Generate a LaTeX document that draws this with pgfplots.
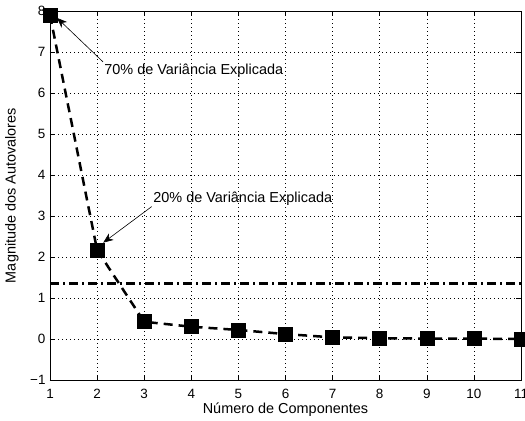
\documentclass[border=0pt]{standalone}
\usepackage{fontspec}
\setmainfont{Liberation Sans}
\usepackage{pgfplots}
\pgfplotsset{compat=1.18}
\usetikzlibrary{arrows.meta}
\begin{document}
\begin{tikzpicture}
	\begin{axis}[
			at={(0,0)}, anchor=south west,
			scale only axis,
			width=471bp, height=369bp,
			xmin=1, xmax=11,
			ymin=-1, ymax=8,
			xtick={1,2,3,4,5,6,7,8,9,10,11},
			xticklabels={1,2,3,4,5,6,7,8,9,10,11},
			ytick={-1,0,1,2,3,4,5,6,7,8},
			yticklabels={−1,0,1,2,3,4,5,6,7,8},
			tick align=inside,
			major tick length=5bp,
			tick style={black, line width=0.6bp},
			axis line style={black, line width=0.8bp},
			ticklabel style={font=\fontsize{13.5}{16}\selectfont},
			xticklabel style={yshift=-5.5bp},
			yticklabel style={xshift=-1bp},
			grid=major,
			grid style={black, line width=0.6bp, dash pattern=on 0.6bp off 3.4bp},
			xlabel={Número de Componentes},
			ylabel={Magnitude dos Autovalores},
			label style={font=\fontsize{14.5}{17}\selectfont},
			xlabel style={at={(axis description cs:0.5,-0.0813)}, anchor=center},
			ylabel style={at={(axis description cs:-0.0807,0.5)}, anchor=center},
			clip mode=individual,
		]

		% autovalores
		\addplot [
			black,
			line width=2.5bp,
			dash pattern=on 9bp off 6bp,
			mark=square*,
			mark size=7bp,
			mark options={solid, fill=black, line width=0.6bp}
		]
		coordinates {(1,7.9) (2,2.17) (3,0.42) (4,0.30) (5,0.22) (6,0.12) (7,0.04) (8,0.02) (9,0.01) (10,0.01) (11,0.0)};

		% criterio de corte
		\addplot [
			black,
			line width=2.8bp,
			dash pattern=on 9bp off 4bp on 2bp off 4bp
		]
		coordinates {(1,1.35) (11,1.35)};

		\draw [-{Stealth[length=10bp, width=8bp, inset=3bp]}, line width=0.6bp]
			(axis cs:2.125,6.76) -- (axis cs:1.15,7.83);
		\node [anchor=west, inner sep=0pt, font=\fontsize{14.5}{17}\selectfont]
			at (axis cs:2.15,6.54) {70\% de Variância Explicada};

		\draw [-{Stealth[length=10bp, width=8bp, inset=3bp]}, line width=0.6bp]
			(axis cs:3.16,3.23) -- (axis cs:2.13,2.35);
		\node [anchor=west, inner sep=0pt, font=\fontsize{14.5}{17}\selectfont]
			at (axis cs:3.19,3.41) {20\% de Variância Explicada};
	\end{axis}
	\pgfresetboundingbox
	\path (-50bp,-41bp) rectangle (475bp,380bp);
\end{tikzpicture}
\end{document}
